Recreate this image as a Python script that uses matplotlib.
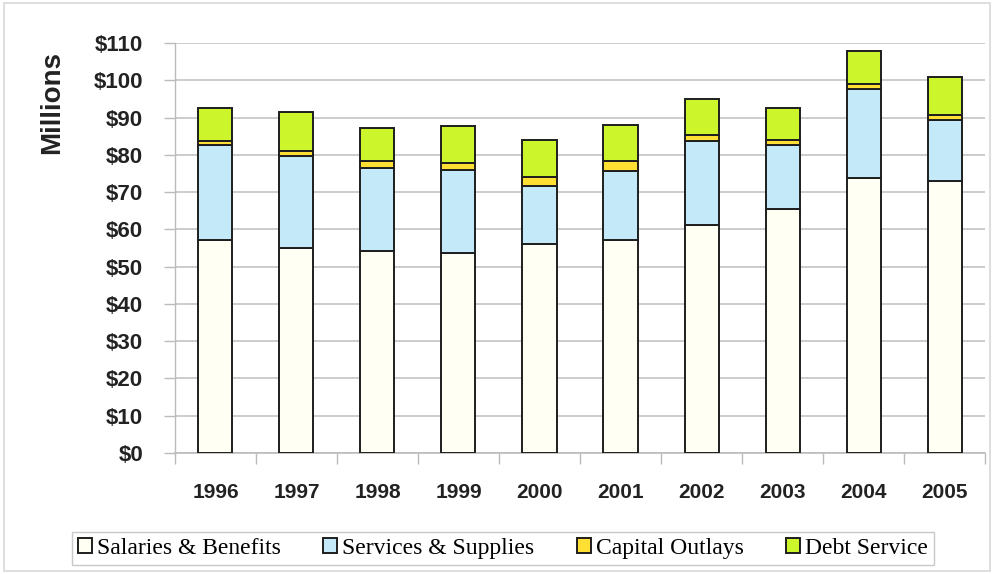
import matplotlib
matplotlib.use("Agg")
import matplotlib.pyplot as plt
from matplotlib.patches import Rectangle
import numpy as np

years = ["1996", "1997", "1998", "1999", "2000", "2001", "2002", "2003", "2004", "2005"]
salaries = [57.2, 55.0, 54.1, 53.7, 56.1, 57.2, 61.1, 65.5, 73.8, 72.9]
services = [25.4, 24.8, 22.4, 22.3, 15.5, 18.4, 22.5, 17.2, 23.9, 16.5]
capital = [1.1, 1.3, 1.9, 1.7, 2.5, 2.7, 1.8, 1.3, 1.4, 1.2]
debt = [9.0, 10.3, 8.9, 10.0, 9.8, 9.8, 9.5, 8.6, 8.8, 10.4]
series_names = ["Salaries & Benefits", "Services & Supplies", "Capital Outlays", "Debt Service"]
yticks = list(range(0, 111, 10))

colors = ["#FFFFF4", "#C4E9F9", "#FFDF33", "#CDF52B"]
edge = "#1e1e1e"

fig = plt.figure(figsize=(9.94, 5.74), dpi=100)
fig.patch.set_facecolor("white")
fig.add_artist(Rectangle((0.004, 0.006), 0.992, 0.988, transform=fig.transFigure,
                         fill=False, edgecolor="#d8d8d8", linewidth=1.2))

ax = fig.add_axes([0.176, 0.211, 0.815, 0.714])
x = np.arange(len(years))
data = [salaries, services, capital, debt]
bottom = np.zeros(len(years))
handles = []
for vals, c, name in zip(data, colors, series_names):
    b = ax.bar(x, vals, width=0.42, bottom=bottom, color=c, edgecolor=edge,
               linewidth=1.4, label=name, zorder=3)
    handles.append(b)
    bottom += np.array(vals)

ax.set_ylim(0, 110)
ax.set_xlim(-0.5, len(years) - 0.5)
ax.set_yticks(yticks)
ax.set_yticklabels([f"${v}" for v in yticks], fontfamily="Liberation Sans",
                   fontweight="bold", fontsize=16, color="#222222")
ax.set_xticks(x)
ax.set_xticklabels(years, fontfamily="Liberation Sans", fontweight="bold",
                   fontsize=15, color="#222222")
ax.tick_params(axis="x", length=0, pad=22)
ax.set_xticks(np.arange(-0.5, len(years), 1), minor=True)
ax.tick_params(axis="x", which="minor", length=8, color="#bbbbbb", width=1)
ax.tick_params(axis="y", length=8, color="#bbbbbb", width=1, pad=15)
ax.grid(axis="y", color="#c4c4c4", linewidth=1.2, zorder=0)
for s in ["top", "right"]:
    ax.spines[s].set_visible(False)
ax.spines["left"].set_color("#bbbbbb")
ax.spines["bottom"].set_color("#bbbbbb")
ax.spines["left"].set_linewidth(1)
ax.spines["bottom"].set_linewidth(1.2)

fig.text(0.052, 0.822, "Millions", rotation=90, ha="center", va="center",
         fontfamily="Liberation Sans", fontweight="bold", fontsize=20, color="#222222")

leg = fig.legend(handles=handles, labels=series_names, loc="center",
                 bbox_to_anchor=(0.506, 0.0445), ncol=4, frameon=True,
                 prop={"family": "Liberation Serif", "size": 17},
                 handlelength=0.6, handleheight=0.6, handletextpad=0.2,
                 columnspacing=1.8, borderpad=0.25, borderaxespad=0, fancybox=False)
leg.get_frame().set_edgecolor("#bbbbbb")
leg.get_frame().set_linewidth(1)

fig.savefig("out.png", dpi=100)
